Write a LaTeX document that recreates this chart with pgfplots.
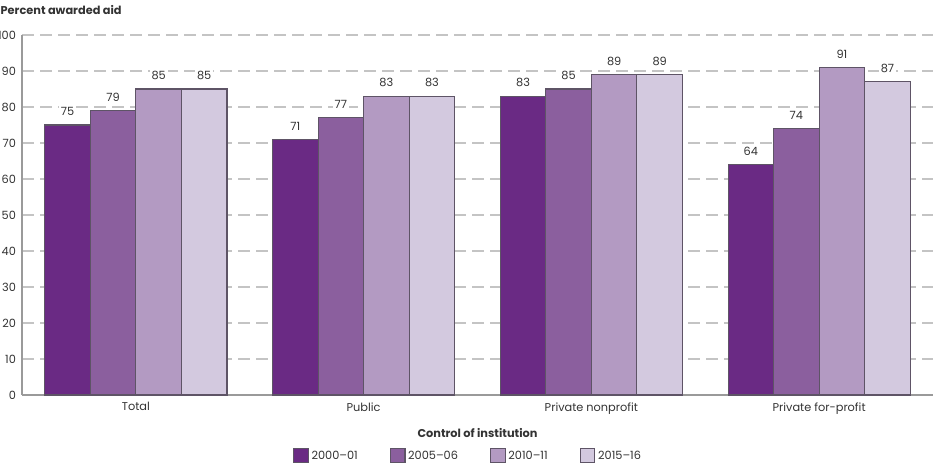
\documentclass[border=0pt]{standalone}
\usepackage{fontspec}
\setmainfont{Poppins}
\usepackage{pgfplots}
\pgfplotsset{compat=1.18}

\definecolor{cA}{HTML}{6A2A84}
\definecolor{cB}{HTML}{8B5F9E}
\definecolor{cC}{HTML}{B39AC2}
\definecolor{cD}{HTML}{D3C9DF}
\definecolor{edge}{HTML}{5E5466}
\definecolor{gridc}{HTML}{C4C4C4}
\definecolor{axisc}{HTML}{9A9A9A}
\definecolor{txt}{HTML}{333333}

\begin{document}
\begin{tikzpicture}[x=1pt,y=1pt]
\begin{axis}[
  scale only axis,
  width=683.25pt, height=270pt,
  xmin=-0.5, xmax=3.5,
  ymin=0, ymax=100,
  ytick={0,10,...,100},
  xtick={0,1,2,3},
  xticklabels={Total,Public,Private nonprofit,Private for-profit},
  /pgf/number format/assume math mode=true,
  tick label style={font=\fontsize{8.5}{10}\selectfont, text=txt},
  axis x line*=bottom, axis y line*=left,
  axis line style={axisc, line width=1.4pt},
  x axis line style={-}, y axis line style={-},
  tick style={draw=none},
  major tick length=0pt,
  yticklabel style={xshift=-1pt},
  xticklabel style={yshift=-2pt},
  ymajorgrids,
  major grid style={gridc, line width=1.4pt, dash pattern=on 9pt off 4.5pt},
  ybar=0pt, bar width=0.2,
  xlabel={\bfseries Control of institution},
  xlabel style={font=\fontsize{8.5}{10}\selectfont, text=txt, yshift=-4pt},
  legend style={at={(0.49,-0.138)}, anchor=north, draw=none,
    font=\fontsize{8.5}{10}\selectfont, text=txt,
    legend columns=4, /tikz/every even column/.append style={column sep=22pt}},
  legend image code/.code={\draw[#1, draw=edge, line width=0.8pt] (0pt,-5pt) rectangle (11pt,6pt);},
  nodes near coords,
  every node near coord/.append style={font=\fontsize{8.5}{10}\selectfont, text=txt,
    fill=white, inner sep=1.5pt, yshift=5pt},
  clip=false,
]
\addplot[fill=cA, draw=edge, line width=0.8pt] coordinates {(0,75) (1,71) (2,83) (3,64)};
\addplot[fill=cB, draw=edge, line width=0.8pt] coordinates {(0,79) (1,77) (2,85) (3,74)};
\addplot[fill=cC, draw=edge, line width=0.8pt] coordinates {(0,85) (1,83) (2,89) (3,91)};
\addplot[fill=cD, draw=edge, line width=0.8pt] coordinates {(0,85) (1,83) (2,89) (3,87)};
\legend{2000--01,2005--06,2010--11,2015--16}
\node[anchor=base west, font=\bfseries\fontsize{8.5}{10}\selectfont, text=txt, inner sep=0pt]
  at ([shift={(-16.2pt,15.5pt)}]rel axis cs:0,1) {Percent awarded aid};
\coordinate (bl) at (rel axis cs:0,0);
\coordinate (tr) at (rel axis cs:1,1);
\end{axis}
\pgfresetboundingbox
\path[use as bounding box] ([shift={(-16.5pt,-56.25pt)}]bl) rectangle ([shift={(0pt,26.25pt)}]tr);
\end{tikzpicture}
\end{document}
